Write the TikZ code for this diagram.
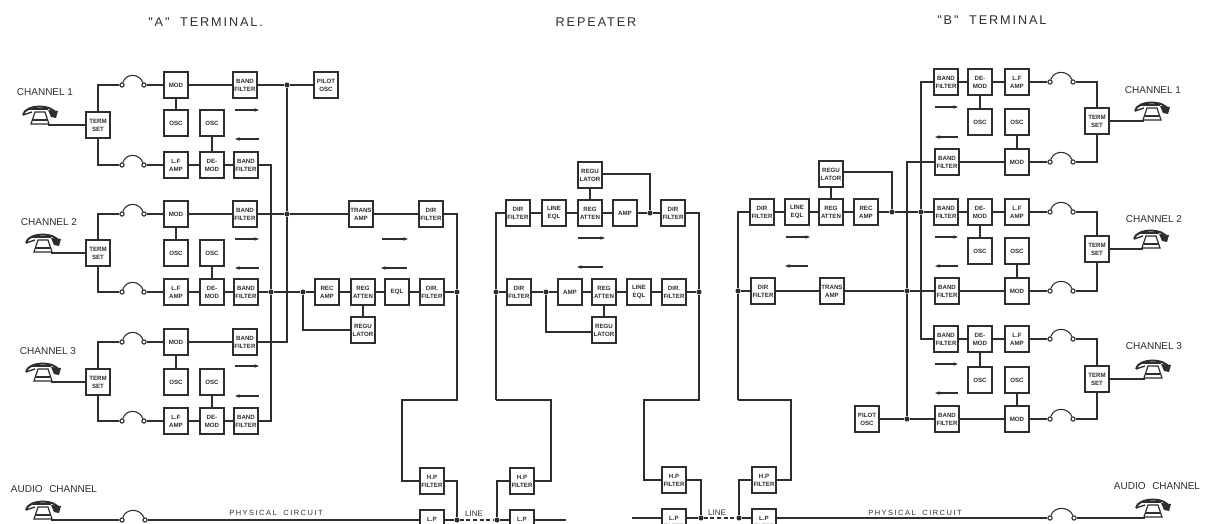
\documentclass[tikz,border=0pt]{standalone}
\usepackage{fontspec}
\setmainfont{Liberation Sans}
\newfontfamily\ttlfont[LetterSpace=15]{Liberation Sans}
\newfontfamily\lblfont{Liberation Sans}
\newfontfamily\physfont[LetterSpace=20]{Liberation Sans}
\usetikzlibrary{arrows.meta,calc}
\definecolor{ink}{HTML}{2E2E2E}
\tikzset{
  wire/.style={draw=ink,line width=0.8pt},
  blk/.style={draw=ink,fill=white,line width=1.4pt,minimum width=18pt,minimum height=19.5pt,inner sep=0pt,align=center,text=ink,font=\bfseries\fontsize{4.6}{5.9}\selectfont},
  jdot/.style={circle,fill=ink,draw=none,minimum size=3.8pt,inner sep=0pt},
  fterm/.style={circle,fill=white,draw=ink,line width=0.8pt,minimum size=3.2pt,inner sep=0pt},
  flow/.style={draw=ink,line width=0.8pt,-{Stealth[length=3.5pt,width=2.6pt]}},
  ttl/.style={text=ink,font=\ttlfont\fontsize{9.5}{9.5}\selectfont,inner sep=0pt},
  lbl/.style={text=ink,font=\lblfont\fontsize{7.5}{7.5}\selectfont,inner sep=0pt},
  phys/.style={text=ink,font=\physfont\fontsize{5.6}{5.6}\selectfont,inner sep=0pt},
  linelbl/.style={text=ink,font=\lblfont\fontsize{6}{6}\selectfont,inner sep=0pt},
}
% fuse: #1 name, #2 left x, #3 right x, #4 y
\newcommand{\fusemark}[4]{%
  \node[fterm] (#1l) at (#2,#4) {};
  \node[fterm] (#1r) at (#3,#4) {};
  \draw[wire] (#1l) .. controls ($(#1l)+(4,-12)$) and ($(#1r)+(-5,-12)$) .. (#1r);
}
% telephone: #1 name, #2 x, #3 y of base
\newcommand{\phonemark}[3]{%
  \coordinate (#1) at (#2,#3);
  \begin{scope}[shift={(#2,#3)}]
    \draw[ink,fill=white,line width=0.9pt] (-5,-13) -- (5,-13) -- (9,-1) -- (-9,-1) -- cycle;
    \draw[ink,line width=1pt] (-7,-5) -- (7,-5);
    \draw[ink,line width=1.5pt] (-17,-10) .. controls (-15,-21) and (13,-21) .. (16,-11);
    \draw[ink,line width=1pt] (-17,-10) -- (-8,-13);
    \draw[ink,line width=1pt] (-12,-16) -- (8,-16);
    \fill[ink] (8,-15) -- (18,-14) -- (16,-7) -- (11,-8) -- cycle;
  \end{scope}
}
% A-side channel: #1 name, #2 top y, #3 bottom y, #4 osc y, #5 term y, #6 right arrow y, #7 left arrow y
\newcommand{\achannel}[7]{%
  \node[blk] (#1ts) at (98,#5) {TERM\\SET};
  \node[blk] (#1md) at (176,#2) {MOD};
  \node[blk] (#1os) at (176,#4) {OSC};
  \node[blk] (#1ot) at (212,#4) {OSC};
  \node[blk] (#1tb) at (245,#2) {BAND\\FILTER};
  \node[blk] (#1lf) at (176,#3) {L.F\\AMP};
  \node[blk] (#1dm) at (212,#3) {DE-\\MOD};
  \node[blk] (#1bb) at (246,#3) {BAND\\FILTER};
  \fusemark{#1fa}{122}{144}{#2}
  \fusemark{#1fb}{122}{144}{#3}
  \draw[wire] (#1ts.north) |- (#1fal);
  \draw[wire] (#1ts.south) |- (#1fbl);
  \draw[wire] (#1far) -- (#1md);
  \draw[wire] (#1fbr) -- (#1lf);
  \draw[wire] (#1md) -- (#1tb);
  \draw[wire] (#1lf) -- (#1dm);
  \draw[wire] (#1dm) -- (#1bb);
  \draw[wire] (#1md) -- (#1os);
  \draw[wire] (#1ot) -- (#1dm);
  \draw[flow] (235,#6) -- (259,#6);
  \draw[flow] (259,#7) -- (235,#7);
}
% B-side channel
\newcommand{\bchannel}[7]{%
  \node[blk] (#1ts) at (1097,#5) {TERM\\SET};
  \node[blk] (#1tb) at (946,#2) {BAND\\FILTER};
  \node[blk] (#1dm) at (980,#2) {DE-\\MOD};
  \node[blk] (#1lf) at (1017,#2) {L.F\\AMP};
  \node[blk] (#1os) at (980,#4) {OSC};
  \node[blk] (#1ot) at (1017,#4) {OSC};
  \node[blk] (#1bb) at (947,#3) {BAND\\FILTER};
  \node[blk] (#1md) at (1017,#3) {MOD};
  \fusemark{#1fa}{1050}{1073}{#2}
  \fusemark{#1fb}{1050}{1073}{#3}
  \draw[wire] (#1ts.north) |- (#1far);
  \draw[wire] (#1ts.south) |- (#1fbr);
  \draw[wire] (#1fal) -- (#1lf);
  \draw[wire] (#1fbl) -- (#1md);
  \draw[wire] (#1tb) -- (#1dm);
  \draw[wire] (#1dm) -- (#1lf);
  \draw[wire] (#1bb) -- (#1md);
  \draw[wire] (#1dm) -- (#1os);
  \draw[wire] (#1ot) -- (#1md);
  \draw[flow] (935,#6) -- (958,#6);
  \draw[flow] (958,#7) -- (935,#7);
}
\begin{document}
\begin{tikzpicture}[x=0.75pt,y=-0.75pt]
\clip (0,0) rectangle (1208,524);
\fill[white] (0,0) rectangle (1208,524);

% Titles
\node[ttl,anchor=west] (ta) at (148,22) {"A"\hspace{8pt}TERMINAL.};
\node[ttl] (tr) at (596,22) {REPEATER};
\node[ttl,anchor=west] (tb) at (937,20) {"B"\hspace{8pt}TERMINAL};

% A terminal
\achannel{a}{85}{165}{123}{125}{110}{139}
\achannel{b}{214}{292}{253}{253}{239}{268}
\achannel{c}{342}{421}{382}{382}{366}{396}
\node[lbl] (al1) at (45,92) {CHANNEL 1};
\node[lbl] (al2) at (49,222) {CHANNEL 2};
\node[lbl] (al3) at (48,351) {CHANNEL 3};
\phonemark{ap1}{40}{125}
\phonemark{ap2}{43}{253}
\phonemark{ap3}{43}{382}
\draw[wire] ($(ap1)+(8,0)$) -- (ats.west);
\draw[wire] ($(ap2)+(8,0)$) -- (bts.west);
\draw[wire] ($(ap3)+(8,0)$) -- (cts.west);

\node[blk] (apl) at (326,85) {PILOT\\OSC};
\node[jdot] (j1) at (287,85) {};
\node[jdot] (j2) at (287,214) {};
\node[jdot] (j3) at (271,292) {};
\node[jdot] (j4) at (303,292) {};
\coordinate (cn1) at (287,342);
\coordinate (cn2) at (271,165);
\coordinate (cn3) at (271,421);
\draw[wire] (atb) -- (j1) -- (apl);
\draw[wire] (j1) -- (j2) -- (cn1) -- (ctb);
\draw[wire] (abb) -- (cn2) -- (j3) -- (cn3) -- (cbb);
\node[blk] (ata) at (361,214) {TRANS\\AMP};
\node[blk] (adf) at (431,214) {DIR\\FILTER};
\node[blk] (ara) at (327,292) {REC\\AMP};
\node[blk] (arg) at (363,292) {REG\\ATTEN};
\node[blk] (aeq) at (397,292) {EQL};
\node[blk] (adg) at (432,292) {DIR.\\FILTER};
\node[blk] (arl) at (363,330) {REGU\\LATOR};
\node[jdot] (j5) at (457,292) {};
\coordinate (cn4) at (303,330);
\draw[wire] (btb) -- (j2) -- (ata) -- (adf);
\draw[wire] (bbb) -- (j3) -- (j4) -- (ara) -- (arg) -- (aeq) -- (adg) -- (j5);
\draw[wire] (arg) -- (arl);
\draw[wire] (arl) -- (cn4) -- (j4);
\draw[flow] (382,239) -- (408,239);
\draw[flow] (407,268) -- (381,268);

% A line filters
\node[blk] (hp1) at (432,481) {H.P\\FILTER};
\node[blk] (lp1) at (432,523) {L.P\\FILTER};
\node[blk] (hp2) at (522,481) {H.P\\FILTER};
\node[blk] (lp2) at (522,523) {L.P\\FILTER};
\node[jdot] (j6) at (457,520) {};
\node[jdot] (j7) at (497,520) {};
\coordinate (k1) at (457,214);
\coordinate (k2) at (457,400);
\coordinate (k3) at (402,400);
\coordinate (k4) at (402,481);
\coordinate (k5) at (457,481);
\coordinate (k6) at (497,481);
\coordinate (k7) at (551,481);
\coordinate (k8) at (551,400);
\coordinate (k9) at (496,400);
\coordinate (k10) at (496,213);
\coordinate (k11) at (566,520);
\draw[wire] (adf) -- (k1) -- (j5) -- (k2) -- (k3) -- (k4) -- (hp1);
\draw[wire] (hp1) -- (k5) -- (j6);
\draw[wire] (hp2) -- (k6) -- (j7);
\draw[wire] (hp2) -- (k7) -- (k8) -- (k9);
\draw[wire] (lp1.east |- j6) -- (j6);
\draw[wire,dash pattern=on 3pt off 2pt] (j6) -- (j7);
\draw[wire] (j7) -- (lp2.west |- j7);
\draw[wire] (lp2.east |- k11) -- (k11);
\node[linelbl] (ln1) at (474,514) {LINE};

% Repeater
\node[blk] (r1) at (518,213) {DIR\\FILTER};
\node[blk] (r2) at (554,213) {LINE\\EQL};
\node[blk] (r3) at (590,213) {REG\\ATTEN};
\node[blk] (r4) at (590,175) {REGU\\LATOR};
\node[blk] (r5) at (625,213) {AMP};
\node[blk] (r6) at (673,213) {DIR\\FILTER};
\node[jdot] (r7) at (650,213) {};
\coordinate (r8) at (650,174);
\coordinate (r9) at (699,213);
\node[blk] (s1) at (519,292) {DIR\\FILTER};
\node[jdot] (s2) at (546,292) {};
\node[jdot] (s0) at (496,292) {};
\node[blk] (s3) at (570,292) {AMP};
\node[blk] (s4) at (604,292) {REG\\ATTEN};
\node[blk] (s5) at (604,330) {REGU\\LATOR};
\node[blk] (s6) at (639,292) {LINE\\EQL};
\node[blk] (s7) at (674,292) {DIR.\\FILTER};
\node[jdot] (s8) at (699,292) {};
\coordinate (s9) at (546,332);
\draw[wire] (k9) -- (s0) -- (k10) -- (r1) -- (r2) -- (r3) -- (r5) -- (r7) -- (r6) -- (r9) -- (s8);
\draw[wire] (r3) -- (r4);
\draw[wire] (r4.east |- r8) -- (r8) -- (r7);
\draw[wire] (s0) -- (s1) -- (s2) -- (s3) -- (s4) -- (s6) -- (s7) -- (s8);
\draw[wire] (s4) -- (s5);
\draw[wire] (s5.west |- s9) -- (s9) -- (s2);
\draw[flow] (578,238) -- (605,238);
\draw[flow] (603,267) -- (577,267);

% B line filters
\node[blk] (hp3) at (674,480) {H.P\\FILTER};
\node[blk] (lp3) at (674,522) {L.P\\FILTER};
\node[blk] (hp4) at (764,480) {H.P\\FILTER};
\node[blk] (lp4) at (764,522) {L.P\\FILTER};
\node[jdot] (j8) at (701,518) {};
\node[jdot] (j9) at (739,518) {};
\coordinate (m1) at (699,400);
\coordinate (m2) at (644,400);
\coordinate (m3) at (644,480);
\coordinate (m4) at (701,480);
\coordinate (m5) at (739,480);
\coordinate (m6) at (791,480);
\coordinate (m7) at (791,400);
\coordinate (m8) at (738,400);
\coordinate (m9) at (738,212);
\coordinate (m10) at (632,518);
\draw[wire] (s8) -- (m1) -- (m2) -- (m3) -- (hp3);
\draw[wire] (hp3) -- (m4) -- (j8);
\draw[wire] (hp4) -- (m5) -- (j9);
\draw[wire] (hp4) -- (m6) -- (m7) -- (m8);
\draw[wire] (m10) -- (lp3.west |- m10);
\draw[wire] (lp3.east |- j8) -- (j8);
\draw[wire,dash pattern=on 3pt off 2pt] (j8) -- (j9);
\draw[wire] (j9) -- (lp4.west |- j9);
\node[linelbl] (ln2) at (717,513) {LINE};

% B terminal
\bchannel{p}{82}{162}{122}{121}{107}{137}
\bchannel{q}{212}{291}{251}{249}{237}{266}
\bchannel{t}{339}{419}{380}{379}{364}{393}
\node[lbl] (bl1) at (1153,90) {CHANNEL 1};
\node[lbl] (bl2) at (1154,219) {CHANNEL 2};
\node[lbl] (bl3) at (1154,346) {CHANNEL 3};
\phonemark{bp1}{1152}{121}
\phonemark{bp2}{1151}{249}
\phonemark{bp3}{1153}{379}
\draw[wire] (pts.east) -- ($(bp1)+(-8,0)$);
\draw[wire] (qts.east) -- ($(bp2)+(-8,0)$);
\draw[wire] (tts.east) -- ($(bp3)+(-8,0)$);

\node[blk] (d1) at (762,212) {DIR\\FILTER};
\node[blk] (d2) at (797,212) {LINE\\EQL};
\node[blk] (d3) at (831,212) {REG\\ATTEN};
\node[blk] (d4) at (831,174) {REGU\\LATOR};
\node[blk] (d5) at (866,212) {REC\\AMP};
\node[jdot] (d6) at (892,212) {};
\coordinate (d7) at (892,172);
\node[jdot] (d8) at (921,212) {};
\node[jdot] (e0) at (738,291) {};
\node[blk] (e1) at (763,291) {DIR\\FILTER};
\node[blk] (e2) at (832,291) {TRANS\\AMP};
\node[jdot] (e3) at (907,291) {};
\node[jdot] (e4) at (907,419) {};
\node[blk] (e5) at (867,419) {PILOT\\OSC};
\coordinate (f1) at (921,82);
\coordinate (f2) at (921,339);
\coordinate (f3) at (907,162);
\draw[wire] (m8) -- (e0) -- (m9) -- (d1) -- (d2) -- (d3) -- (d5) -- (d6) -- (d8) -- (qtb);
\draw[wire] (d3) -- (d4);
\draw[wire] (d4.east |- d7) -- (d7) -- (d6);
\draw[wire] (e0) -- (e1) -- (e2) -- (e3) -- (qbb);
\draw[wire] (ptb) -- (f1) -- (d8) -- (f2) -- (ttb);
\draw[wire] (pbb) -- (f3) -- (e3) -- (e4);
\draw[wire] (e5) -- (e4) -- (tbb);
\draw[flow] (786,237) -- (810,237);
\draw[flow] (808,266) -- (785,266);

% Audio
\node[lbl] (al4) at (54,489) {AUDIO\hspace{5pt}CHANNEL};
\node[lbl] (bl4) at (1157,486) {AUDIO\hspace{5pt}CHANNEL};
\phonemark{ap4}{43}{520}
\phonemark{bp4}{1153}{518}
\fusemark{af}{122}{145}{520}
\fusemark{bf}{1050}{1074}{518}
\draw[wire] ($(ap4)+(8,0)$) -- (afl);
\draw[wire] (afr) -- (lp1.west |- afr);
\draw[wire] (lp4.east |- bfl) -- (bfl);
\draw[wire] (bfr) -- ($(bp4)+(-8,0)$);
\node[phys] (pc1) at (276,513) {PHYSICAL\hspace{5pt}CIRCUIT};
\node[phys] (pc2) at (915,513) {PHYSICAL\hspace{5pt}CIRCUIT};
\end{tikzpicture}
\end{document}
